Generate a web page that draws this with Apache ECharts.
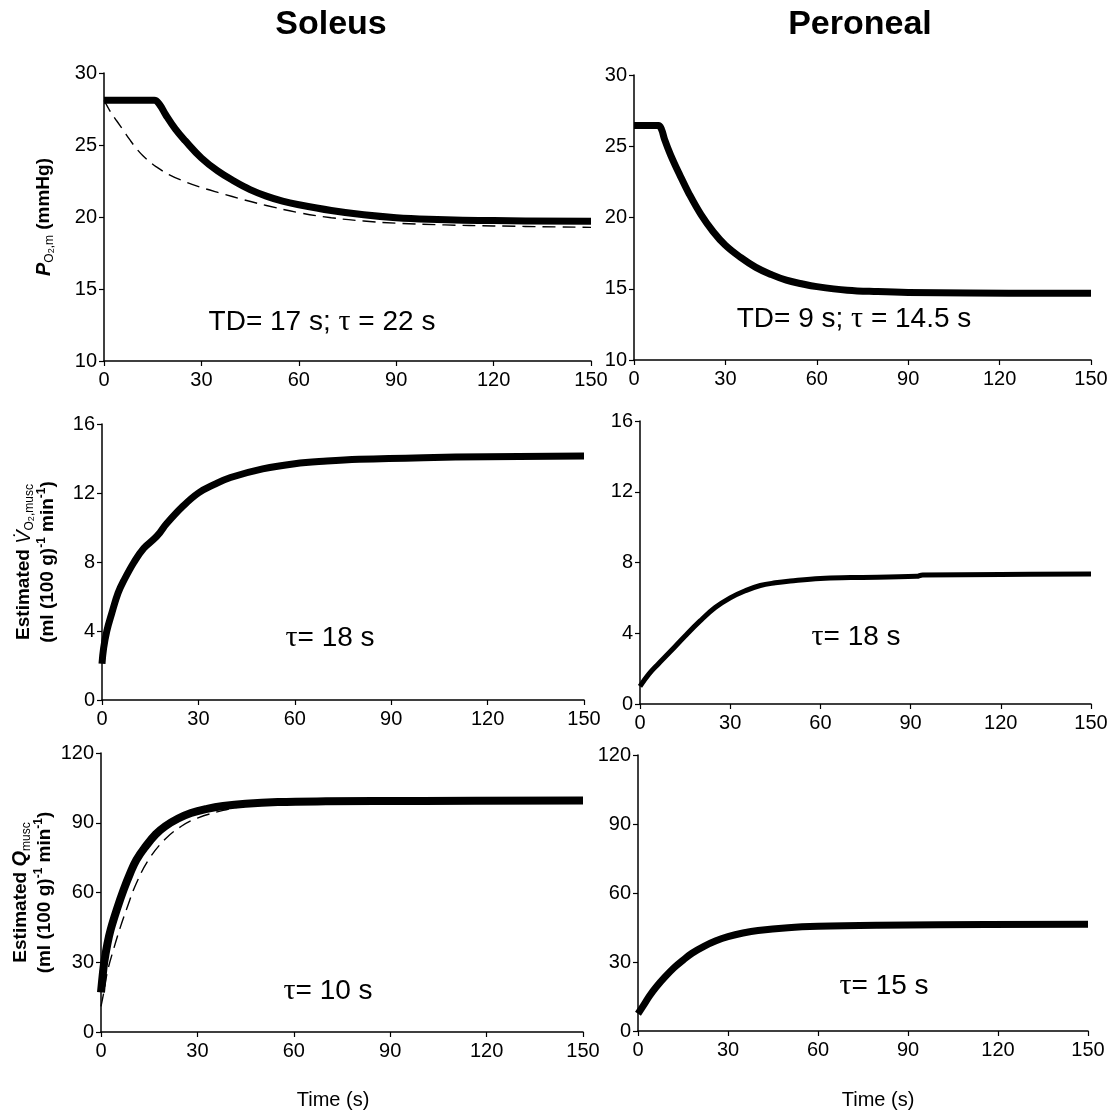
<!DOCTYPE html>
<html><head><meta charset="utf-8">
<script src="https://cdn.jsdelivr.net/npm/echarts@6/dist/echarts.min.js"></script>
<style>html,body{margin:0;padding:0;background:#fff}#c{width:1108px;height:1113px}</style>
</head><body><div id="c"></div>
<script>
// ---------- data ----------
const columnTitles = ['Soleus', 'Peroneal'];
const timeRange = [0, 150, 30];          // min, max, interval (s)
const po2Range  = [10, 30, 5];
const vo2Range  = [0, 16, 4];
const qRange    = [0, 120, 30];

// Row 1: muscle PO2 (mmHg)
const soleusPO2 = [[0,28.1],[15.5,28.1],[17,27.85],[19,27.1],[22,26.1],[25,25.3],[30,24.1],[35,23.2],[40,22.5],[45,21.9],[50,21.45],[55,21.1],[60,20.85],[70,20.45],[80,20.15],[90,19.95],[100,19.85],[120,19.75],[150,19.7]];
const soleusPO2Fit = [[0,28.1],[1,27.7],[2,27.3],[4,26.65],[6,26.0],[8,25.35],[10,24.75],[12,24.25],[14,23.85],[16,23.5],[20,22.95],[25,22.45],[30,22.05],[36,21.65],[43,21.2],[50,20.8],[60,20.3],[70,19.95],[80,19.72],[90,19.57],[105,19.45],[120,19.38],[150,19.28]];
const peronealPO2 = [[0,26.45],[8,26.45],[9,26.2],[10,25.5],[12,24.4],[15,23.0],[18,21.7],[22,20.2],[26,19.0],[30,18.05],[35,17.2],[40,16.5],[45,16.0],[50,15.6],[55,15.35],[60,15.15],[70,14.9],[80,14.8],[90,14.74],[110,14.7],[150,14.68]];

// Row 2: estimated muscle VO2
const soleusVO2 = [[0,2.1],[0.5,3.0],[1.5,4.0],[3,5.0],[5,6.2],[7,7.0],[10,8.0],[13,8.8],[16,9.3],[18,9.7],[20,10.2],[25,11.2],[30,12.0],[35,12.5],[40,12.9],[50,13.4],[60,13.7],[70,13.85],[80,13.95],[100,14.05],[120,14.1],[150,14.15]];
const peronealVO2 = [[0,1.0],[3,1.7],[6,2.25],[10,2.95],[15,3.85],[20,4.7],[25,5.45],[30,6.0],[35,6.4],[40,6.7],[45,6.85],[50,6.95],[60,7.1],[70,7.15],[92,7.22],[94,7.3],[120,7.32],[150,7.35]];

// Row 3: estimated muscle blood flow Q
const soleusQ = [[0,17],[0.5,24],[1,30],[2,38],[3,44],[5,53],[7,61],[9,68],[11,74],[14,80],[17,85],[20,88.5],[24,91.8],[28,94.2],[33,96],[38,97.2],[45,98.2],[55,98.9],[70,99.2],[100,99.4],[150,99.6]];
const soleusQFit = [[0,11],[1,18],[2,26],[4,36],[6,45],[8,53],[11,64],[15,74.5],[20,83],[25,88.5],[30,92],[38,95.3],[45,97.3],[52,98.6],[56,99.1]];
const peronealQ = [[0,7.5],[2,11.5],[4,15.5],[6,19],[9,23.5],[12,27.5],[15,30.8],[18,33.8],[22,36.8],[26,39.2],[30,41],[35,42.6],[40,43.7],[50,44.9],[60,45.5],[80,46],[100,46.2],[150,46.4]];

const annotations = ['TD= 17 s; {t|τ} = 22 s', 'TD= 9 s; {t|τ} = 14.5 s', '{t|τ}= 18 s', '{t|τ}= 18 s', '{t|τ}= 10 s', '{t|τ}= 15 s'];
const xAxisTitle = 'Time (s)';

// ---------- layout ----------
const FONT = 'Liberation Sans, Arial, sans-serif';
const grids = [
  {left:104, top:73,  width:487, height:288},
  {left:634, top:75,  width:457, height:285},
  {left:102, top:424, width:482, height:276},
  {left:640, top:421, width:451, height:283},
  {left:101, top:753, width:482, height:279},
  {left:638, top:755, width:450, height:276}
];
const yRanges = [po2Range, po2Range, vo2Range, vo2Range, qRange, qRange];

const subRich = {
  b:   {fontFamily:FONT, fontWeight:'bold', fontSize:19, color:'#000'},
  pi:  {fontFamily:FONT, fontWeight:'bold', fontStyle:'italic', fontSize:20, color:'#000'},
  iv:  {fontFamily:FONT, fontWeight:'normal', fontStyle:'italic', fontSize:20, color:'#000'},
  sub: {fontFamily:FONT, fontWeight:'normal', fontSize:12, color:'#000', verticalAlign:'bottom'},
  sub2:{fontFamily:FONT, fontWeight:'normal', fontSize:9, color:'#000', verticalAlign:'bottom'},
  sup: {fontFamily:FONT, fontWeight:'bold', fontSize:12, color:'#000', verticalAlign:'top'}
};
const yNames = [
  '{pi|P}{sub|O}{sub2|2}{sub|,m}{b| (mmHg)}', '',
  '{b|Estimated }{iv|V̇}{sub|O}{sub2|2}{sub|,musc}\n{b|(ml (100 g)}{sup|-1}{b| min}{sup|-1}{b|)}', '',
  '{b|Estimated }{pi|Q}{sub|musc}\n{b|(ml (100 g)}{sup|-1}{b| min}{sup|-1}{b|)}', ''
];
const yNameGaps = [48, 0, 42, 0, 42, 0];

const axisLine = {show:true, onZero:false, lineStyle:{color:'#000', width:1.5}};
const axisTick = {show:true, length:5, lineStyle:{color:'#000', width:1.2}};
const labelStyle = {color:'#000', fontFamily:FONT, fontSize:20};

const xAxes = grids.map((g,i)=>({
  type:'value', gridIndex:i, min:timeRange[0], max:timeRange[1], interval:timeRange[2],
  axisLine, axisTick, splitLine:{show:false},
  axisLabel:Object.assign({margin:9, showMinLabel:true, showMaxLabel:true}, labelStyle)
}));
const yAxes = grids.map((g,i)=>({
  type:'value', gridIndex:i, min:yRanges[i][0], max:yRanges[i][1], interval:yRanges[i][2],
  axisLine, axisTick, splitLine:{show:false},
  axisLabel:Object.assign({margin:7, showMinLabel:true, showMaxLabel:true}, labelStyle),
  name: yNames[i], nameLocation:'middle', nameRotate:90, nameGap:yNameGaps[i],
  nameTextStyle:{fontFamily:FONT, fontWeight:'bold', fontSize:19, color:'#000', lineHeight:24, rich:subRich}
}));

function solid(i, data, w){
  return {type:'line', xAxisIndex:i, yAxisIndex:i, data, showSymbol:false, symbol:'none',
    smooth:0.4, silent:true, z:3,
    lineStyle:{color:'#000', width:w, cap:'butt', join:'round'}};
}
function dashed(i, data){
  return {type:'line', xAxisIndex:i, yAxisIndex:i, data, showSymbol:false, symbol:'none',
    smooth:0.4, silent:true, z:2,
    lineStyle:{color:'#000', width:1.4, type:[13,7]}};
}

const series = [
  solid(0, soleusPO2, 7), dashed(0, soleusPO2Fit),
  solid(1, peronealPO2, 7),
  solid(2, soleusVO2, 7),
  solid(3, peronealVO2, 5),
  solid(4, soleusQ, 8), dashed(4, soleusQFit),
  solid(5, peronealQ, 7)
];

const annPos = [[322,322],[854,319],[330,638],[856,637],[328,991],[884,986]];
const tauRich = {t:{fontFamily:'Liberation Serif, serif', fontSize:30, color:'#000'}};
const graphic = [
  {type:'text', x:331, y:25, style:{text:columnTitles[0], font:'bold 34px '+FONT, fill:'#000', textAlign:'center', textVerticalAlign:'middle'}},
  {type:'text', x:860, y:25, style:{text:columnTitles[1], font:'bold 34px '+FONT, fill:'#000', textAlign:'center', textVerticalAlign:'middle'}},
  {type:'text', x:333, y:1100, style:{text:xAxisTitle, font:'20px '+FONT, fill:'#000', textAlign:'center', textVerticalAlign:'middle'}},
  {type:'text', x:878, y:1100, style:{text:xAxisTitle, font:'20px '+FONT, fill:'#000', textAlign:'center', textVerticalAlign:'middle'}}
].concat(annotations.map((t,i)=>({
  type:'text', x:annPos[i][0], y:annPos[i][1],
  style:{text:t, font:'28px '+FONT, fill:'#000', textAlign:'center', textVerticalAlign:'middle', rich:tauRich}
})));

const chart = echarts.init(document.getElementById('c'), null, {renderer:'canvas'});
chart.setOption({
  backgroundColor:'#fff',
  animation:false,
  grid: grids.map(g=>Object.assign({outerBoundsMode:'none', containLabel:false}, g)),
  xAxis: xAxes,
  yAxis: yAxes,
  series,
  graphic
});
</script></body></html>
